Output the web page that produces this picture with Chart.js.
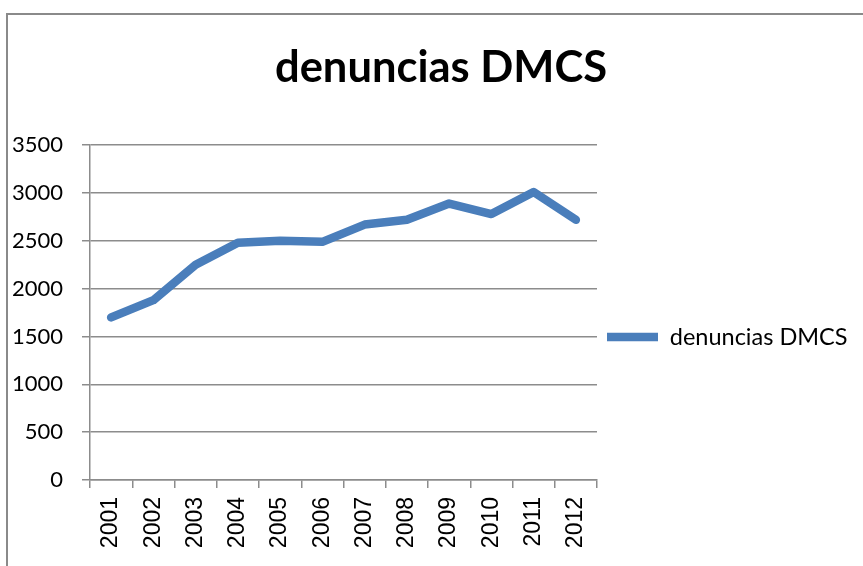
<!DOCTYPE html>
<html>
<head>
<meta charset="utf-8">
<script src="https://cdn.jsdelivr.net/npm/chart.js@4"></script>
<style>
  html, body { margin: 0; padding: 0; background: #fff; }
  #wrap { position: relative; width: 863px; height: 566px; overflow: hidden; }
  #frame { position: absolute; left: 6px; top: 13px; width: 900px; height: 600px; border: 2px solid #8a8a8a; }
  canvas { position: absolute; left: 0; top: 0; }
</style>
</head>
<body>
<div id="wrap">
  <div id="frame"></div>
  <canvas id="chart" width="863" height="566"></canvas>
</div>
<script>
// datos
const YEARS = ['2001', '2002', '2003', '2004', '2005', '2006', '2007', '2008', '2009', '2010', '2011', '2012'];
const DENUNCIAS = [1700, 1880, 2250, 2480, 2500, 2490, 2670, 2720, 2890, 2780, 3010, 2720];
const Y_MIN = 0;
const Y_MAX = 3500;
const Y_STEP = 500;

const lineColor = '#4A7EBB';
const gridColor = '#8c8c8c';
const LEGEND_WIDTH = 266;

// colocar título y leyenda como en Excel
const boxShift = {
    id: 'boxShift',
    afterInit(chart) {
        const lg = chart.legend;
        if (!lg) return;
        const origFit = lg.fit.bind(lg);
        lg.fit = function () {
            origFit();
            this.width = LEGEND_WIDTH;
        };
    },
    afterLayout(chart) {
        const lg = chart.legend;
        if (lg) {
            lg.top += 54;
            lg.bottom += 54;
        }
        const tt = chart.titleBlock;
        if (tt) {
            const dx = 441 - (tt.left + tt.right) / 2;
            tt.left += dx;
            tt.right += dx;
            tt.top += 1;
            tt.bottom += 1;
        }
    }
};

new Chart(document.getElementById('chart'), {
    type: 'line',
    data: {
        labels: YEARS,
        datasets: [{
            label: 'denuncias DMCS',
            data: DENUNCIAS,
            borderColor: lineColor,
            backgroundColor: lineColor,
            borderWidth: 8.5,
            borderCapStyle: 'round',
            borderJoinStyle: 'round',
            pointRadius: 0,
            pointStyle: 'line',
            tension: 0,
            fill: false
        }]
    },
    options: {
        responsive: false,
        animation: false,
        layout: { padding: { left: 0, right: 0, top: 0, bottom: 0 } },
        plugins: {
            title: {
                display: true,
                text: 'denuncias DMCS',
                color: '#000',
                font: { family: 'Lato', size: 43.5, weight: 'bold' },
                padding: { top: 41, bottom: 52 }
            },
            legend: {
                position: 'right',
                labels: {
                    color: '#000',
                    font: { family: 'Lato', size: 23.5 },
                    usePointStyle: true,
                    pointStyleWidth: 51,
                    padding: 10
                }
            },
            tooltip: { enabled: false }
        },
        scales: {
            x: {
                offset: true,
                grid: { offset: true, drawOnChartArea: false, drawTicks: true, tickLength: 8, color: gridColor, lineWidth: 1.5 },
                border: { display: true, color: gridColor, width: 1.5 },
                ticks: {
                    color: '#000',
                    font: { family: 'Liberation Sans', size: 23 },
                    minRotation: 90,
                    maxRotation: 90,
                    padding: 9
                },
                afterFit(scale) { scale.height = 86; }
            },
            y: {
                min: Y_MIN,
                max: Y_MAX,
                ticks: {
                    stepSize: Y_STEP,
                    color: '#000',
                    font: { family: 'Lato', size: 22 },
                    padding: 19,
                    callback: v => String(v)
                },
                grid: { color: gridColor, lineWidth: 1.5, tickLength: 8 },
                border: { display: true, color: gridColor, width: 1.5 },
                afterFit(scale) { scale.width = 90; }
            }
        }
    },
    plugins: [boxShift]
});
</script>
</body>
</html>
